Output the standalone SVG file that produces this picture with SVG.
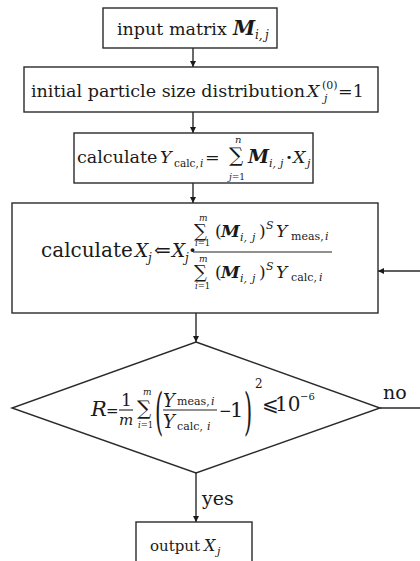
<svg xmlns="http://www.w3.org/2000/svg" width="420" height="561" viewBox="0 0 420 561">
<style>
.box{fill:#fff;stroke:#2a2a2a;stroke-width:1.4}
.ln{fill:none;stroke:#2a2a2a;stroke-width:1.4}
.bar{stroke:#222;stroke-width:1.1}
text{font-family:"DejaVu Serif","Liberation Serif",serif;fill:#1a1a1a}
.it{font-style:italic}
.bi{font-style:italic;font-weight:bold}
</style>
<defs>
<marker id="ah" viewBox="0 0 8 8" refX="8" refY="4" markerWidth="6" markerHeight="6" orient="auto" markerUnits="userSpaceOnUse">
<path d="M0,0 L8,4 L0,8 z" fill="#1a1a1a"/>
</marker>
</defs>
<rect width="420" height="561" fill="#fff"/>
<g id="connectors">
<line class="ln" x1="193" y1="48" x2="193" y2="67" marker-end="url(#ah)"/>
<line class="ln" x1="193" y1="112" x2="193" y2="133" marker-end="url(#ah)"/>
<line class="ln" x1="193" y1="183" x2="193" y2="203" marker-end="url(#ah)"/>
<line class="ln" x1="196" y1="313" x2="196" y2="342" marker-end="url(#ah)"/>
<line class="ln" x1="196" y1="473" x2="196" y2="522" marker-end="url(#ah)"/>
<polyline class="ln" points="380,408 426,408 426,271 378,271" marker-end="url(#ah)"/>
<text x="202" y="505" font-size="19">yes</text>
<text x="383" y="399" font-size="19">no</text>
</g>
<g id="n1">
<rect class="box" x="103" y="8" width="174" height="40"/>
<text y="35" font-size="17.5"><tspan x="117">input matrix</tspan><tspan x="233" class="bi" font-size="20">M</tspan><tspan x="255" y="39" class="it" font-size="12">i,</tspan><tspan x="265" y="39" class="it" font-size="12">j</tspan></text>
</g>
<g id="n2">
<rect class="box" x="24" y="67" width="354" height="45"/>
<text y="97" font-size="17.5"><tspan x="31">initial particle size distribution</tspan><tspan x="307" class="it">X</tspan><tspan x="322" y="89" font-size="11">(0)</tspan><tspan x="324" y="102" class="it" font-size="11">j</tspan><tspan x="338" y="97">=1</tspan></text>
</g>
<g id="n3">
<rect class="box" x="74" y="133" width="239" height="50"/>
<text y="163" font-size="17.5"><tspan x="77">calculate</tspan><tspan x="160" class="it">Y</tspan><tspan x="174" y="167" font-size="10.5">calc,</tspan><tspan x="200" y="167" class="it" font-size="10.5">i</tspan><tspan x="205" y="163">=</tspan><tspan x="229" y="162" font-size="20">∑</tspan><tspan x="248" y="163" class="bi" font-size="19">M</tspan><tspan x="269" y="167" class="it" font-size="11">i,</tspan><tspan x="280" y="167" class="it" font-size="11">j</tspan><tspan x="286" y="163" font-weight="bold">·</tspan><tspan x="293" class="it">X</tspan><tspan x="307" y="167" class="it" font-size="11">j</tspan></text>
<text x="235" y="143" font-size="10" class="it">n</text>
<text x="229" y="180" font-size="9"><tspan class="it">j</tspan>=1</text>
</g>
<g id="n4">
<rect class="box" x="12" y="203" width="366" height="110"/>
<text y="257" font-size="20"><tspan x="41">calculate</tspan><tspan x="135" class="it" font-size="18.5">X</tspan><tspan x="148" y="262" class="it" font-size="12">j</tspan><tspan x="154" y="257">⇐</tspan><tspan x="172" class="it" font-size="18.5">X</tspan><tspan x="185" y="262" class="it" font-size="12">j</tspan><tspan x="189" y="257" font-weight="bold">·</tspan></text>
<line class="bar" x1="193" y1="252" x2="332" y2="252"/>
<text y="237" font-size="17"><tspan x="194" font-size="18">∑</tspan><tspan x="215">(</tspan><tspan x="221" class="bi">M</tspan><tspan x="240" y="241" class="it" font-size="11">i,</tspan><tspan x="252" y="241" class="it" font-size="11">j</tspan><tspan x="259" y="237">)</tspan><tspan x="266" y="229" class="it" font-size="11">S</tspan><tspan x="276" y="237" class="it">Y</tspan><tspan x="291" y="240" font-size="11">meas,</tspan><tspan x="325" y="240" class="it" font-size="11">i</tspan></text>
<text x="199" y="221" font-size="9" class="it">m</text>
<text x="195" y="246" font-size="8.5"><tspan class="it">i</tspan>=1</text>
<text y="278" font-size="17"><tspan x="194" font-size="18">∑</tspan><tspan x="215">(</tspan><tspan x="221" class="bi">M</tspan><tspan x="240" y="282" class="it" font-size="11">i,</tspan><tspan x="252" y="282" class="it" font-size="11">j</tspan><tspan x="259" y="278">)</tspan><tspan x="266" y="270" class="it" font-size="11">S</tspan><tspan x="276" y="278" class="it">Y</tspan><tspan x="291" y="281" font-size="11">calc,</tspan><tspan x="319" y="281" class="it" font-size="11">i</tspan></text>
<text x="199" y="262" font-size="9" class="it">m</text>
<text x="195" y="289" font-size="8.5"><tspan class="it">i</tspan>=1</text>
</g>
<g id="n5">
<polygon class="box" points="196,342 380,408 196,473 12,408"/>
<text x="91" y="416" font-size="21" class="it">R</text>
<text x="106" y="416" font-size="15">=</text>
<text x="121" y="406" font-size="17">1</text>
<line class="bar" x1="119" y1="410" x2="133" y2="410"/>
<text x="119" y="425" font-size="15" class="it">m</text>
<text x="137" y="415" font-size="20">∑</text>
<text x="143" y="395" font-size="9" class="it">m</text>
<text x="138" y="428" font-size="8.5"><tspan class="it">i</tspan>=1</text>
<text transform="translate(155,429) scale(0.42,1)" font-size="50">(</text>
<text y="407" font-size="18"><tspan x="163" class="it">Y</tspan><tspan x="177" y="405" font-size="11">meas,</tspan><tspan x="211" y="405" class="it" font-size="11">i</tspan></text>
<line class="bar" x1="163" y1="410" x2="217" y2="410"/>
<text y="428" font-size="18"><tspan x="163" class="it">Y</tspan><tspan x="177" y="430" font-size="11">calc,</tspan><tspan x="207" y="430" class="it" font-size="11">i</tspan></text>
<text y="417"><tspan x="219" font-size="15" dy="-1">−</tspan><tspan x="230" y="417" font-size="21">1</tspan></text>
<text transform="translate(244,429) scale(0.42,1)" font-size="50">)</text>
<text x="255" y="388" font-size="12">2</text>
<text y="411" font-size="20"><tspan x="262">⩽</tspan><tspan x="275">10</tspan><tspan x="300" y="400" font-size="10">−6</tspan></text>
</g>
<g id="n6">
<rect class="box" x="136" y="522" width="116" height="60"/>
<text y="551" font-size="15"><tspan x="150">output</tspan><tspan x="204" class="it" font-size="16">X</tspan><tspan x="217" y="555" class="it" font-size="11">j</tspan></text>
</g>
</svg>
